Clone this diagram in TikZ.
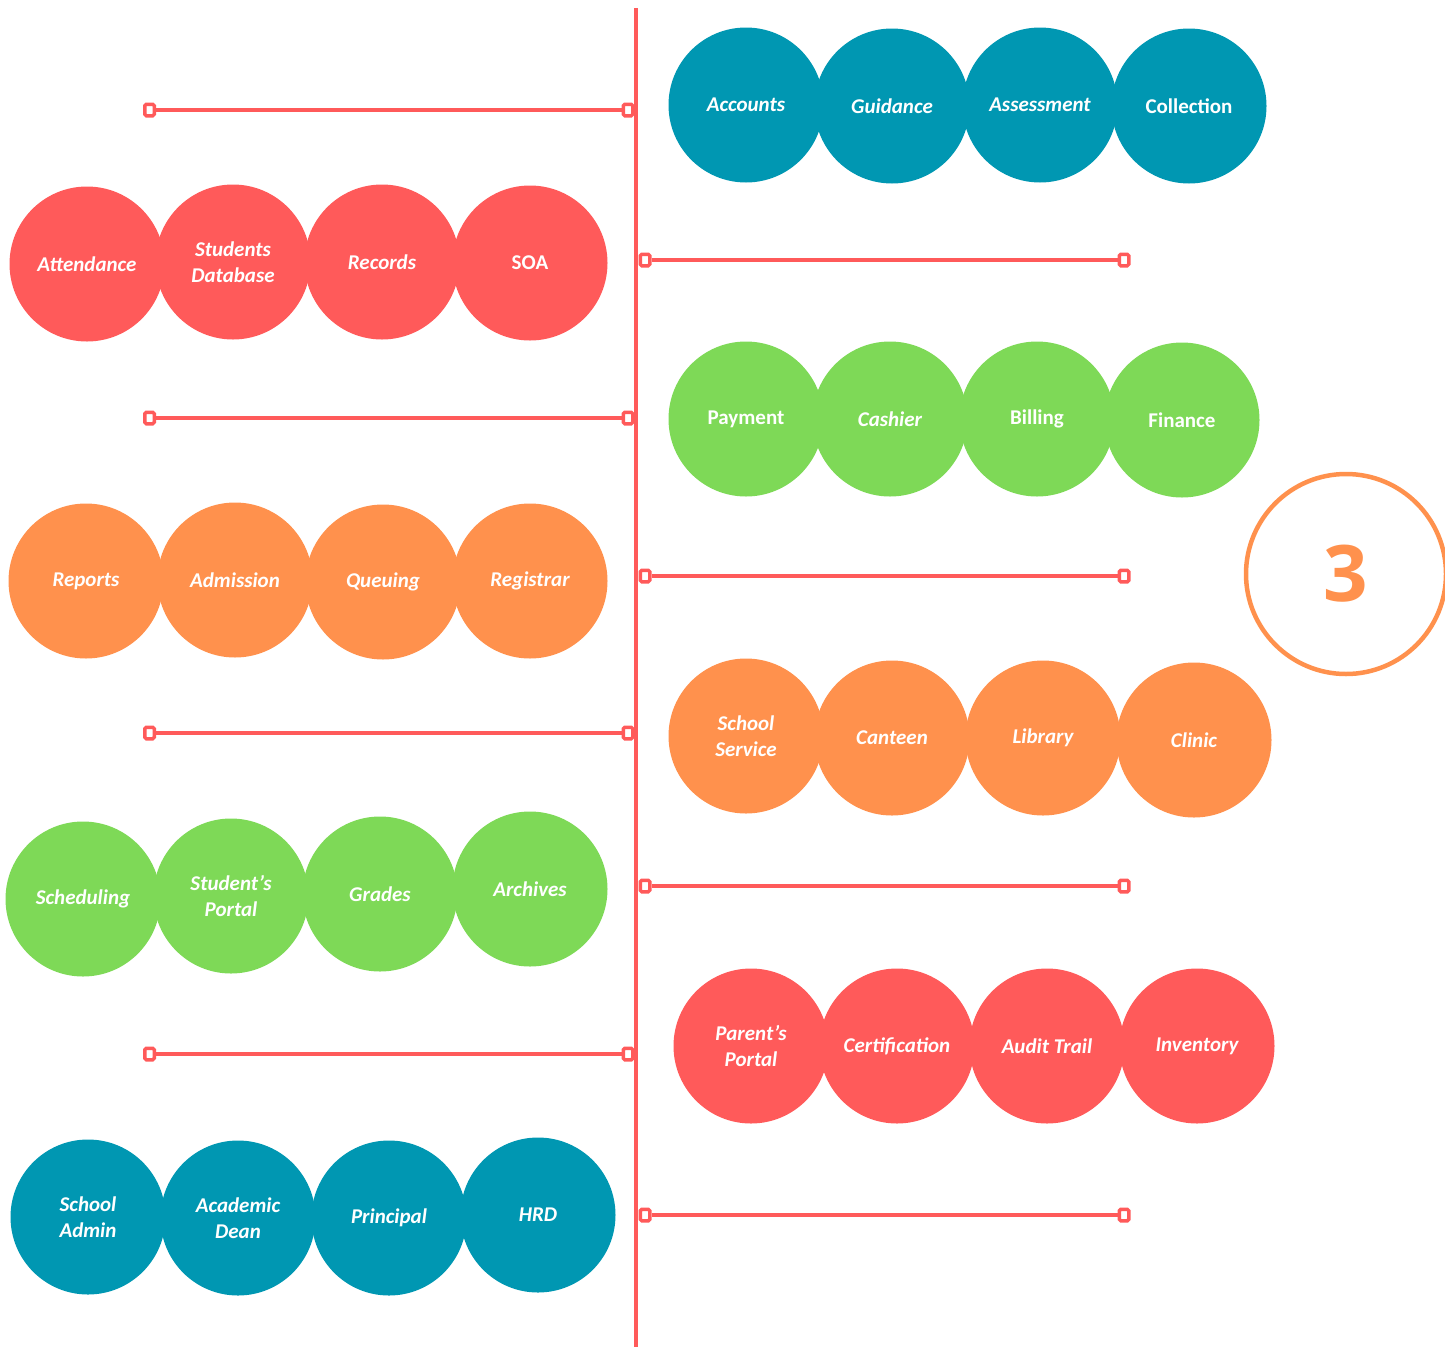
\documentclass[tikz,border=0pt]{standalone}
\usepackage{fontspec}
\setmainfont{Carlito}
\newfontfamily\numfont{Open Sans}
\definecolor{cred}{HTML}{FF5A5A}
\definecolor{cteal}{HTML}{0097B2}
\definecolor{cgreen}{HTML}{7ED957}
\definecolor{corange}{HTML}{FF914D}
\tikzset{
  bub/.style={circle, minimum size=155pt, inner sep=0pt, text=white, align=center,
    font=\bfseries\itshape\fontsize{21}{26}\selectfont},
  upr/.style={font=\bfseries\fontsize{21}{26}\selectfont},
  sqm/.style={rectangle, draw=cred, fill=white, line width=3.5pt, minimum width=9.5pt, minimum height=11.5pt, inner sep=0pt, rounded corners=1.5pt},
  hline/.style={draw=cred, line width=3.5pt},
  vline/.style={draw=cred, line width=3.5pt}
}
\begin{document}
\begin{tikzpicture}[x=1pt,y=-1pt]
\useasboundingbox (0,0) rectangle (1445,1347);
% vertical line
\coordinate (vtop) at (636,8);
\coordinate (vbot) at (636,1347);
\draw[vline] (vtop) -- (vbot);
% right row 1 teal
\node[bub, fill=cteal] (acc) at (746,105) {Accounts};
\node[bub, fill=cteal] (gui) at (892,106) {Guidance};
\node[bub, fill=cteal] (ass) at (1040,105) {Assessment};
\node[bub, fill=cteal, upr] (col) at (1189,106) {Collection};
% left row 1 red
\node[bub, fill=cred] (att) at (87,264) {Attendance};
\node[bub, fill=cred] (sdb) at (233,262) {Students\\Database};
\node[bub, fill=cred] (rec) at (382,262) {Records};
\node[bub, fill=cred, upr] (soa) at (530,263) {SOA};
% right row 2 green
\node[bub, fill=cgreen, upr] (pay) at (746,419) {Payment};
\node[bub, fill=cgreen] (cas) at (890,419) {Cashier};
\node[bub, fill=cgreen, upr] (bil) at (1037,419) {Billing};
\node[bub, fill=cgreen, upr] (fin) at (1182,420) {Finance};
% left row 2 orange
\node[bub, fill=corange] (rep) at (86,581) {Reports};
\node[bub, fill=corange] (adm) at (235,580) {Admission};
\node[bub, fill=corange] (que) at (383,582) {Queuing};
\node[bub, fill=corange] (reg) at (530,581) {Registrar};
% right row 3 orange
\node[bub, fill=corange] (ssv) at (746,736) {School\\Service};
\node[bub, fill=corange] (can) at (892,738) {Canteen};
\node[bub, fill=corange] (lib) at (1043,738) {Library};
\node[bub, fill=corange] (cli) at (1194,740) {Clinic};
% left row 3 green
\node[bub, fill=cgreen] (sch) at (83,899) {Scheduling};
\node[bub, fill=cgreen] (spo) at (231,896) {Student’s\\Portal};
\node[bub, fill=cgreen] (gra) at (380,894) {Grades};
\node[bub, fill=cgreen] (arc) at (530,889) {Archives};
% right row 4 red
\node[bub, fill=cred] (ppo) at (751,1046) {Parent’s\\Portal};
\node[bub, fill=cred] (cer) at (897,1046) {Certification};
\node[bub, fill=cred] (aud) at (1047,1046) {Audit Trail};
\node[bub, fill=cred] (inv) at (1197,1046) {Inventory};
% left row 4 teal
\node[bub, fill=cteal] (sad) at (88,1217) {School\\Admin};
\node[bub, fill=cteal] (ade) at (238,1218) {Academic\\Dean};
\node[bub, fill=cteal] (pri) at (389,1218) {Principal};
\node[bub, fill=cteal] (hrd) at (538,1215) {HRD};
% left connectors
\node[sqm] (la1) at (149.5,110) {}; \node[sqm] (lb1) at (628,110) {};
\node[sqm] (la2) at (149.5,418) {}; \node[sqm] (lb2) at (628,418) {};
\node[sqm] (la3) at (149.5,733) {}; \node[sqm] (lb3) at (628,733) {};
\node[sqm] (la4) at (149.5,1054) {}; \node[sqm] (lb4) at (628,1054) {};
\draw[hline] (la1) -- (lb1);
\draw[hline] (la2) -- (lb2);
\draw[hline] (la3) -- (lb3);
\draw[hline] (la4) -- (lb4);
% right connectors
\node[sqm] (ra1) at (645,260) {}; \node[sqm] (rb1) at (1124,260) {};
\node[sqm] (ra2) at (645,576) {}; \node[sqm] (rb2) at (1124,576) {};
\node[sqm] (ra3) at (645,886) {}; \node[sqm] (rb3) at (1124,886) {};
\node[sqm] (ra4) at (645,1215) {}; \node[sqm] (rb4) at (1124,1215) {};
\draw[hline] (ra1) -- (rb1);
\draw[hline] (ra2) -- (rb2);
\draw[hline] (ra3) -- (rb3);
\draw[hline] (ra4) -- (rb4);
% number circle
\node[circle, draw=corange, line width=4.5pt, minimum size=200pt, inner sep=0pt,
  text=corange, font=\numfont\bfseries\fontsize{78}{78}\selectfont] (three) at (1346,574) {3};
\end{tikzpicture}
\end{document}
